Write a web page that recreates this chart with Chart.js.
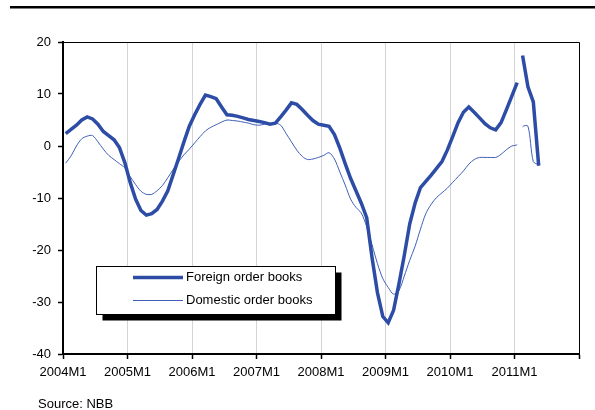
<!DOCTYPE html>
<html>
<head>
<meta charset="utf-8">
<script src="https://cdn.jsdelivr.net/npm/chart.js@4/dist/chart.umd.min.js"></script>
<style>
  html, body { margin: 0; padding: 0; background: #fff; }
  #wrap { position: relative; width: 595px; height: 410px; }
</style>
</head>
<body>
<div id="wrap"><canvas id="myChart" width="595" height="410"></canvas></div>
<script>
// monthly balances from 2004M1, series restart after 2011M1
const yearTicks = ['2004M1', '2005M1', '2006M1', '2007M1', '2008M1', '2009M1', '2010M1', '2011M1'];
const breakAfter = 84; // index of 2011M1

const foreignBooks = [
  2.4, 3.2, 4.0, 5.0, 5.6, 5.2, 4.2, 2.8, 2.0, 1.2, -0.3, -3.2,
  -7.0, -10.2, -12.4, -13.3, -13.0, -12.2, -10.6, -8.6, -5.5, -2.4, 0.8, 3.8,
  6.0, 8.0, 9.8, 9.5, 9.1, 7.5, 6.0, 5.9, 5.7, 5.4, 5.1, 4.9,
  4.7, 4.5, 4.2, 4.4, 5.6, 6.9, 8.3, 8.0, 7.0, 5.9, 4.9, 4.2,
  4.0, 3.8, 2.2, -0.4, -3.4, -6.2, -8.6, -11.0, -13.8, -21.5, -28.2, -32.8,
  -34.0, -31.6, -26.5, -21.0, -15.0, -11.0, -8.0, -6.8, -5.6, -4.3, -3.0, -0.8,
  1.8, 4.5, 6.5, 7.5, 6.5, 5.4, 4.3, 3.5, 3.1, 4.5, 7.0, 9.6,
  12.2, 17.4, 11.4, 8.5, -3.8
];

const domesticBooks = [
  -3.3, -1.9, 0.0, 1.4, 1.9, 2.0, 0.8, -0.6, -1.8, -2.6, -3.4, -4.2,
  -5.9, -7.4, -8.7, -9.3, -9.3, -8.6, -7.6, -6.1, -4.5, -3.0, -1.7, -0.6,
  0.6, 1.8, 2.9, 3.6, 4.1, 4.6, 5.0, 4.9, 4.8, 4.6, 4.4, 4.1,
  4.0, 4.2, 4.3, 4.4, 4.0, 2.4, 0.8, -0.8, -2.0, -2.6, -2.5, -2.2,
  -1.8, -1.3, -2.5, -5.0, -7.5, -10.2, -11.8, -12.9, -15.5, -19.0, -22.6, -25.5,
  -27.2, -28.5, -27.8, -25.0, -22.0, -19.3, -16.0, -13.0, -11.2, -9.9, -9.0, -8.1,
  -7.0, -5.9, -4.8, -3.5, -2.6, -2.2, -2.2, -2.2, -2.2, -1.6, -0.7, 0.0,
  0.3, 3.7, 3.8, -3.0, -3.6
];

const FONT = "'Liberation Sans', Arial, sans-serif";

// each value sits in the middle of its month
function toPoints(values) {
  return values.map((v, i) => ({ x: i + 0.5, y: v }));
}

function lineAt(color) {
  return ctx => ctx.p0DataIndex === breakAfter ? 'rgba(0,0,0,0)' : color;
}

// title rule, plot frame, shadowed legend box and source line
const decorations = {
  id: 'decorations',
  afterDraw(chart) {
    const c = chart.ctx;
    const a = chart.chartArea;
    c.save();

    c.fillStyle = '#000';
    c.fillRect(10, 6, 585, 2.5);

    c.strokeStyle = '#000';
    c.lineWidth = 1;
    c.beginPath();
    c.moveTo(a.left, a.top + 0.5);
    c.lineTo(a.right + 0.5, a.top + 0.5);
    c.lineTo(a.right + 0.5, a.bottom);
    c.stroke();

    // legend
    const bx = 96.5, by = 266.5, bw = 239, bh = 48;
    c.fillStyle = '#000';
    c.fillRect(bx + 6, by + 6, bw, bh);
    c.fillStyle = '#fff';
    c.fillRect(bx, by, bw, bh);
    c.strokeStyle = '#000';
    c.lineWidth = 1;
    c.strokeRect(bx, by, bw, bh);

    c.font = '13px ' + FONT;
    c.textBaseline = 'middle';
    chart.data.datasets.forEach((ds, i) => {
      const y = 277.5 + i * 23;
      c.strokeStyle = ds.borderColor;
      c.lineWidth = ds.borderWidth;
      c.beginPath();
      c.moveTo(133, y);
      c.lineTo(183, y);
      c.stroke();
      c.fillStyle = '#000';
      c.fillText(ds.label, 186, y);
    });

    c.fillStyle = '#000';
    c.textBaseline = 'middle';
    c.fillText('Source: NBB', 38, 404);
    c.restore();
  }
};

const ctx = document.getElementById('myChart').getContext('2d');
const myChart = new Chart(ctx, {
  type: 'line',
  data: {
    datasets: [{
      label: 'Foreign order books',
      data: toPoints(foreignBooks),
      borderColor: '#2D4CA5',
      borderWidth: 3.5,
      pointRadius: 0,
      tension: 0,
      segment: { borderColor: lineAt('#2D4CA5') }
    }, {
      label: 'Domestic order books',
      data: toPoints(domesticBooks),
      borderColor: '#3F5FB8',
      borderWidth: 1,
      pointRadius: 0,
      tension: 0.3,
      segment: { borderColor: lineAt('#3F5FB8') }
    }]
  },
  options: {
    responsive: false,
    animation: false,
    layout: { padding: { left: 0, top: 42, right: 16, bottom: 26 } },
    plugins: {
      legend: { display: false },
      tooltip: { enabled: false }
    },
    scales: {
      x: {
        type: 'linear',
        min: 0,
        max: 96,
        afterFit: scale => { scale.height = 30; },
        border: { color: '#000', width: 2 },
        grid: {
          color: '#d4d4d4',
          lineWidth: 1,
          tickColor: '#000',
          tickLength: 5,
          tickWidth: 1.5
        },
        ticks: {
          stepSize: 12,
          autoSkip: false,
          maxRotation: 0,
          padding: 6,
          color: '#000',
          font: { family: FONT, size: 13 },
          callback: v => yearTicks[v / 12] || ''
        }
      },
      y: {
        min: -40,
        max: 20,
        afterFit: scale => { scale.width = 63; },
        border: { color: '#000', width: 2 },
        grid: {
          drawOnChartArea: false,
          tickColor: '#000',
          tickLength: 5,
          tickWidth: 1.5
        },
        ticks: {
          stepSize: 10,
          padding: 7,
          color: '#000',
          font: { family: FONT, size: 13 }
        }
      }
    }
  },
  plugins: [decorations]
});
</script>
</body>
</html>
